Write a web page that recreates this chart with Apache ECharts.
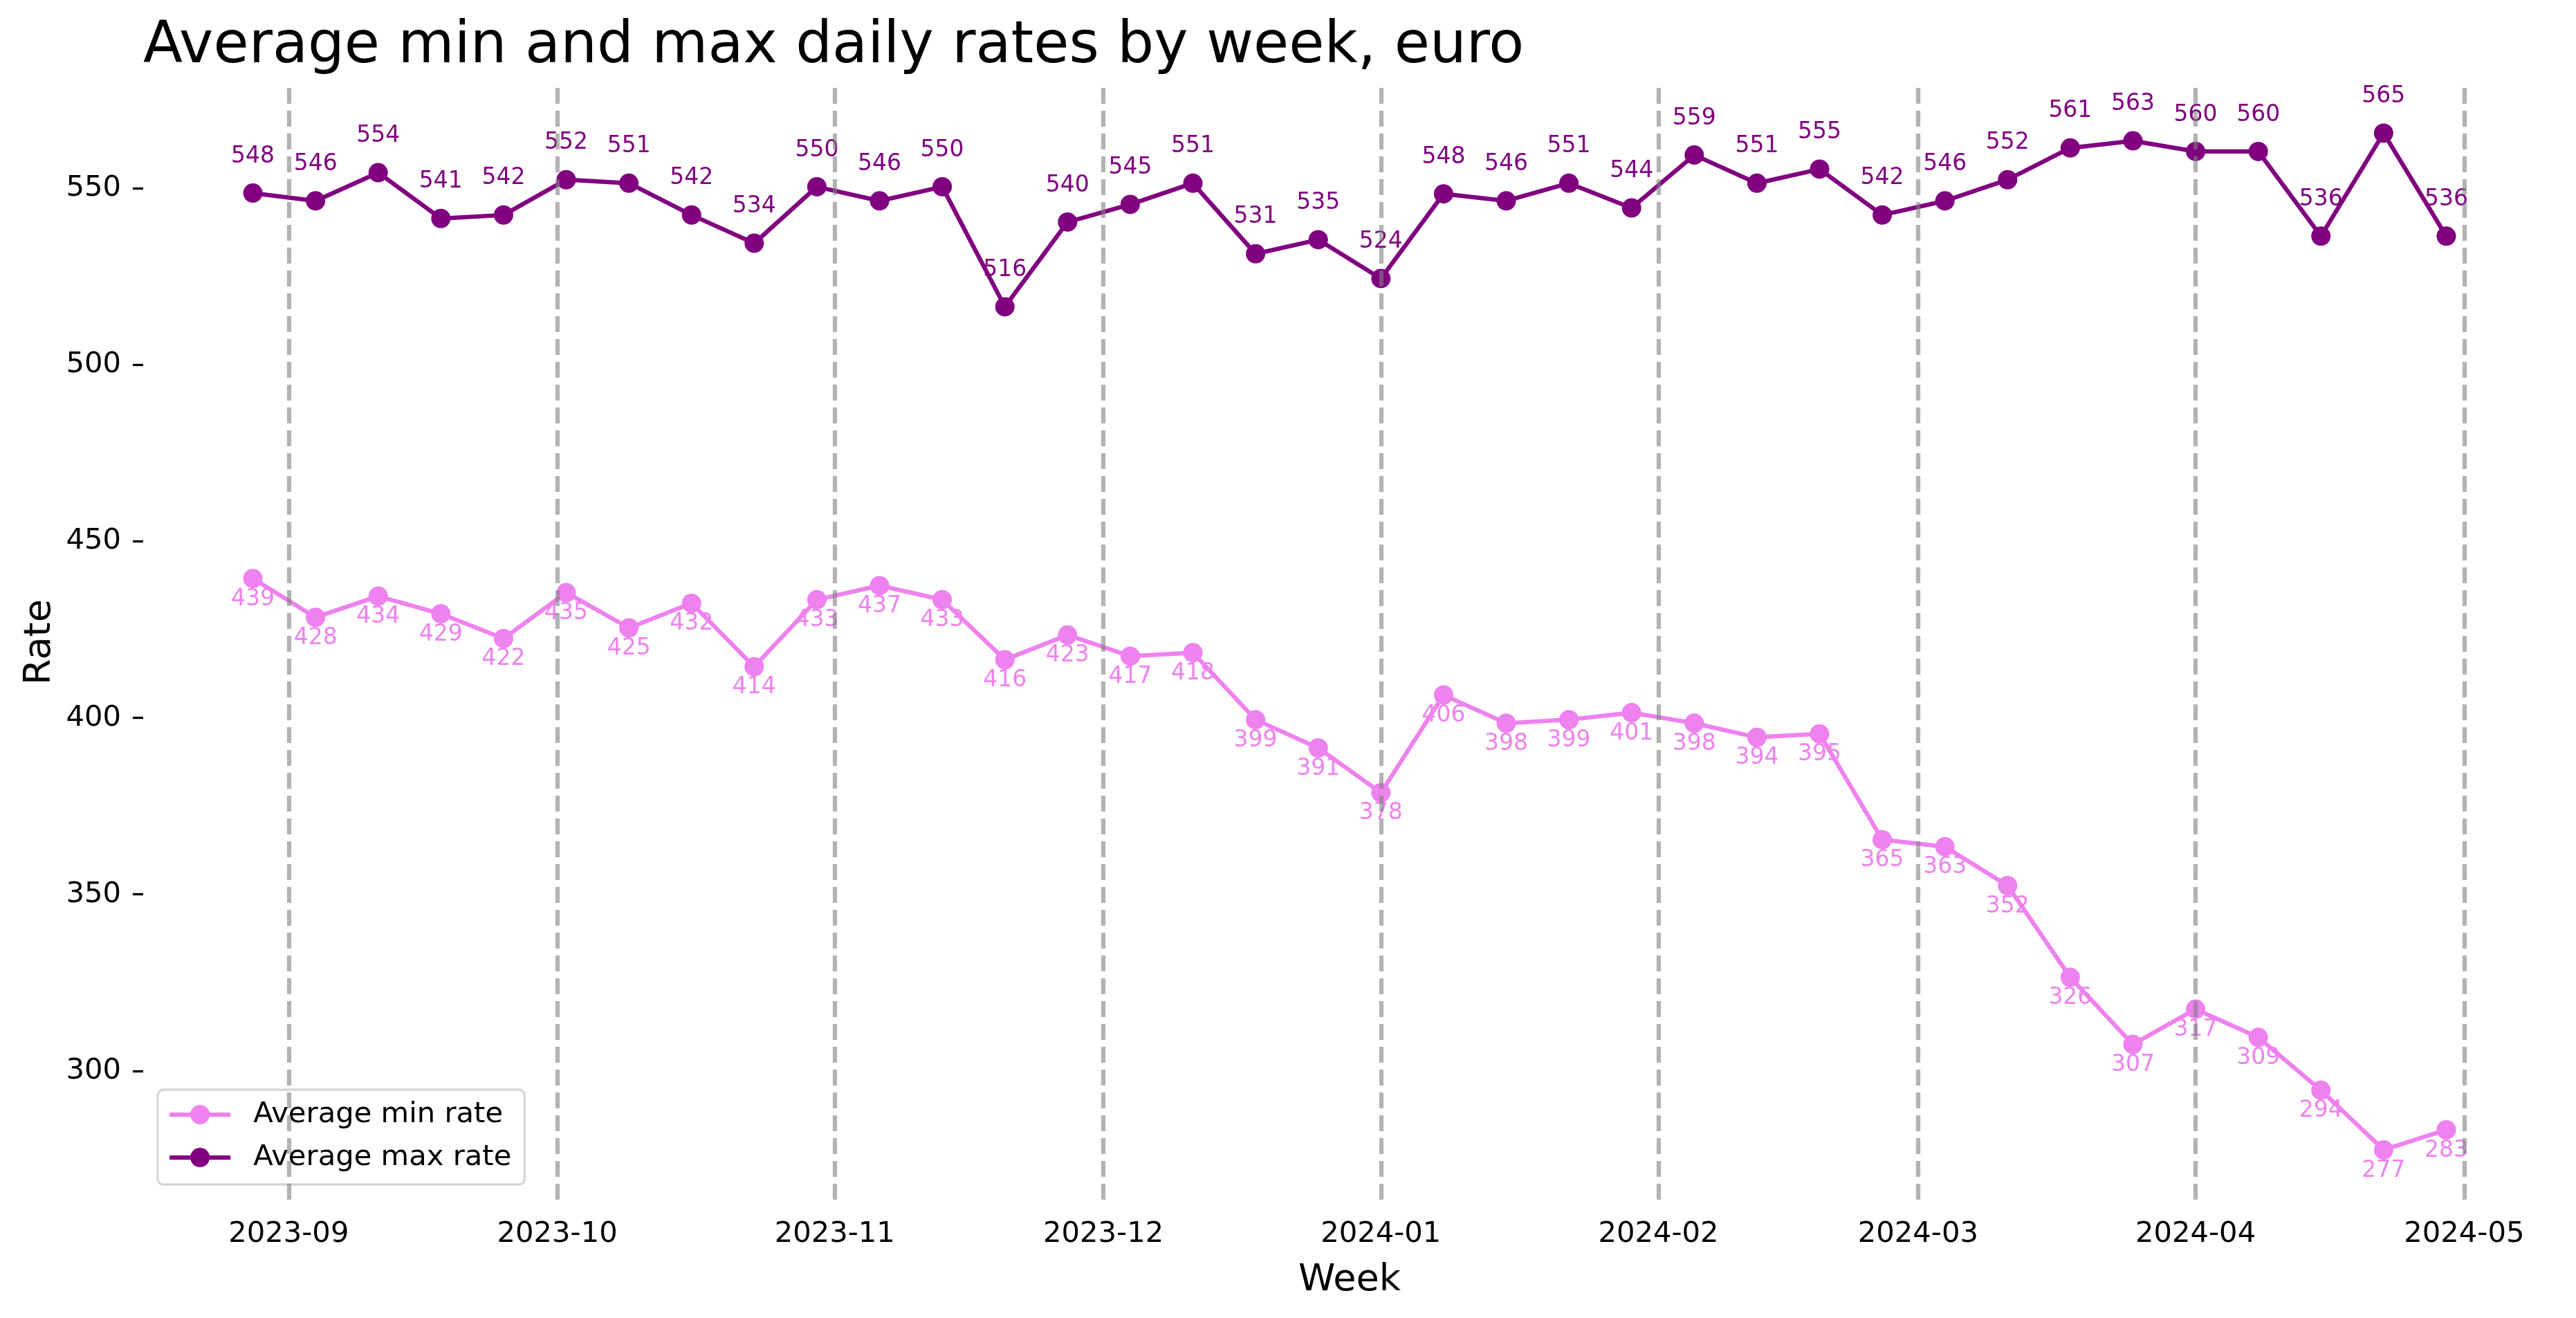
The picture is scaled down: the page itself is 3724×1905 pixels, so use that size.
<!DOCTYPE html>
<html>
<head>
<meta charset="utf-8">
<script src="https://cdn.jsdelivr.net/npm/echarts@6/dist/echarts.min.js"></script>
<style>html,body{margin:0;padding:0;background:#fff}#c{width:3724px;height:1905px}</style>
</head>
<body>
<div id="c"></div>
<script>
const weeks = ['2023-08-28','2023-09-04','2023-09-11','2023-09-18','2023-09-25','2023-10-02','2023-10-09','2023-10-16','2023-10-23','2023-10-30','2023-11-06','2023-11-13','2023-11-20','2023-11-27','2023-12-04','2023-12-11','2023-12-18','2023-12-25','2024-01-01','2024-01-08','2024-01-15','2024-01-22','2024-01-29','2024-02-05','2024-02-12','2024-02-19','2024-02-26','2024-03-04','2024-03-11','2024-03-18','2024-03-25','2024-04-01','2024-04-08','2024-04-15','2024-04-22','2024-04-29'];
const minRate = [439.5,428.5,434.5,429.5,422.5,435.5,425.5,432.5,414.5,433.5,437.5,433.5,416.5,423.5,417.5,418.5,399.5,391.5,378.8,406.5,398.5,399.5,401.5,398.5,394.5,395.5,365.5,363.5,352.5,326.5,307.5,317.5,309.5,294.5,277.6,283.3];
const maxRate = [548.7,546.5,554.5,541.5,542.5,552.5,551.5,542.5,534.5,550.5,546.5,550.5,516.5,540.5,545.5,551.5,531.5,535.5,524.5,548.5,546.5,551.5,544.5,559.5,551.5,555.5,542.5,546.5,552.5,561.5,563.5,560.5,560.5,536.5,565.7,536.5];
const monthTicks = ['2023-09-01','2023-10-01','2023-11-01','2023-12-01','2024-01-01','2024-02-01','2024-03-01','2024-04-01','2024-05-01'];
const yTicks = [300,350,400,450,500,550];
const titleText = 'Average min and max daily rates by week, euro';
const minName = 'Average min rate';
const maxName = 'Average max rate';

function ts(s){ const p = s.split('-').map(Number); return Date.UTC(p[0], p[1]-1, p[2]); }
const DAY = 86400000;
const xMin = ts(weeks[0]) - 12.25*DAY;
const xMax = ts(weeks[weeks.length-1]) + 12.25*DAY;
const monthTs = monthTicks.map(ts);
const FONT = 'DejaVu Sans';

const chart = echarts.init(document.getElementById('c'), null, {renderer:'canvas'});
chart.setOption({
  animation: false,
  backgroundColor: '#fff',
  textStyle: {fontFamily: FONT},
  title: {text: titleText, left: 207, top: 27, padding: 0,
    textStyle: {fontFamily: FONT, fontSize: 83.3, fontWeight: 'normal', color: '#000'}},
  grid: {left: 207, right: 29, top: 122, bottom: 171, containLabel: false},
  legend: {
    data: [minName, maxName], orient: 'vertical', left: 228, top: 1575,
    padding: [15, 19, 18, 14], itemGap: 20, itemWidth: 88, itemHeight: 35,
    backgroundColor: 'rgba(255,255,255,0.8)', borderColor: 'rgba(204,204,204,0.8)',
    borderWidth: 3.3, borderRadius: 8,
    lineStyle: {width: 6.25},
    textStyle: {fontFamily: FONT, fontSize: 41.7, color: '#000', padding: [0,0,0,28]}
  },
  xAxis: {
    type: 'value', min: xMin, max: xMax,
    axisLine: {show: false}, axisTick: {show: false}, splitLine: {show: false},
    axisLabel: {customValues: monthTs, fontFamily: FONT, fontSize: 41.7, color: '#000', margin: 29,
      formatter: function(v){ const d = new Date(v); return d.getUTCFullYear() + '-' + String(d.getUTCMonth()+1).padStart(2,'0'); }},
    name: 'Week', nameLocation: 'middle', nameGap: 90,
    nameTextStyle: {fontFamily: FONT, fontSize: 54, color: '#000'}
  },
  yAxis: {
    type: 'value', min: 263.5, max: 579.5,
    axisLine: {show: false}, splitLine: {show: false},
    axisTick: {show: true, customValues: yTicks, length: 15, lineStyle: {color: '#000', width: 3.3}},
    axisLabel: {customValues: yTicks, fontFamily: FONT, fontSize: 41.7, color: '#000', margin: 32},
    name: 'Rate', nameLocation: 'middle', nameGap: 122, nameRotate: 90,
    nameTextStyle: {fontFamily: FONT, fontSize: 54, color: '#000'}
  },
  series: [
    {
      name: minName, type: 'line', z: 2,
      data: weeks.map((w,i)=>[ts(w), minRate[i]]),
      symbol: 'circle', symbolSize: 28, showSymbol: true,
      itemStyle: {color: '#EE82EE'}, lineStyle: {color: '#EE82EE', width: 6.25},
      label: {show: true, position: 'inside', offset: [0, 30], fontFamily: FONT, fontSize: 33, color: '#EE82EE',
        formatter: p => String(Math.floor(p.value[1]))}
    },
    {
      name: maxName, type: 'line', z: 2,
      data: weeks.map((w,i)=>[ts(w), maxRate[i]]),
      symbol: 'circle', symbolSize: 28, showSymbol: true,
      itemStyle: {color: '#800080'}, lineStyle: {color: '#800080', width: 6.25},
      label: {show: true, position: 'inside', offset: [0, -53], fontFamily: FONT, fontSize: 33, color: '#800080',
        formatter: p => String(Math.floor(p.value[1]))}
    },
    {
      name: 'months', type: 'line', z: 5, data: [], silent: true,
      markLine: {
        silent: true, symbol: ['none','none'], animation: false,
        label: {show: false},
        lineStyle: {color: 'rgba(128,128,128,0.6)', width: 6.25, type: [23, 10]},
        emphasis: {disabled: true},
        data: monthTs.map(t => ({xAxis: t}))
      }
    }
  ]
});
</script>
</body>
</html>
